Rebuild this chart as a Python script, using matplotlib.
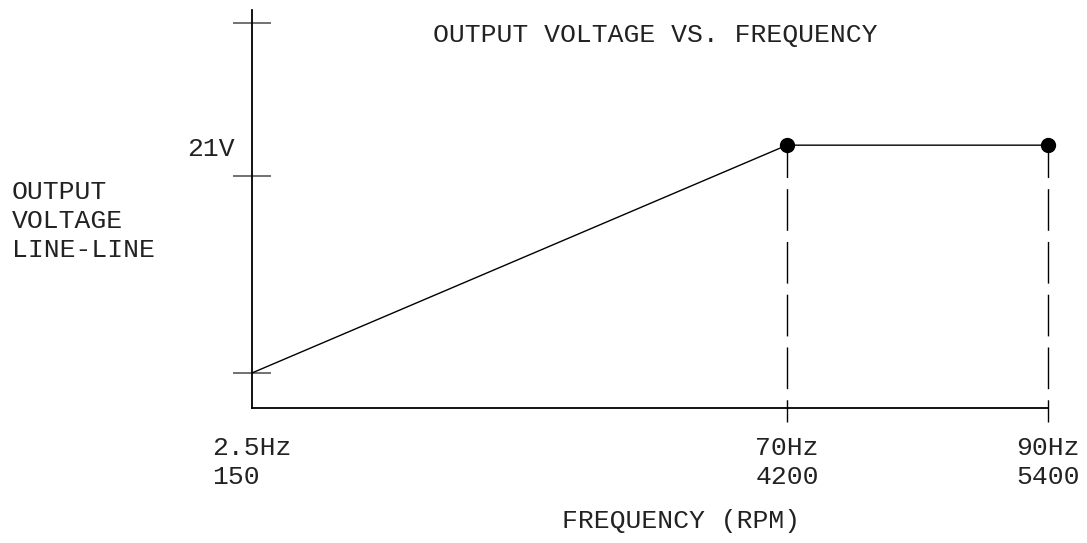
from matplotlib import pyplot as plt
import numpy as np

# operating points
freq_hz = [2.5, 70, 90]
speed_rpm = [150, 4200, 5400]
voltage = [2.8, 21, 21]
# y tick marks on the voltage axis (volts, estimated)
volt_ticks = [2.8, 18.5, 30.8]

# schematic (not to scale) frequency axis: piecewise linear spacing
seg_len = [535.0, 261.0]

def fwd(x):
    x = np.asarray(x, dtype=float)
    a = (x - freq_hz[0]) / (freq_hz[1] - freq_hz[0]) * seg_len[0]
    b = seg_len[0] + (x - freq_hz[1]) / (freq_hz[2] - freq_hz[1]) * seg_len[1]
    return np.where(x <= freq_hz[1], a, b)

def inv(u):
    u = np.asarray(u, dtype=float)
    a = freq_hz[0] + u / seg_len[0] * (freq_hz[1] - freq_hz[0])
    b = freq_hz[1] + (u - seg_len[0]) / seg_len[1] * (freq_hz[2] - freq_hz[1])
    return np.where(u <= seg_len[0], a, b)

W, H = 1087, 543
font = 'Liberation Mono'
fs = 19
tc = '#222222'

fig = plt.figure(figsize=(W / 100, H / 100), dpi=100)
ax = fig.add_axes([252 / W, 135 / H, (1048 - 252) / W, (408 - 10) / H])
ax.set_xscale('function', functions=(fwd, inv))
ax.set_xlim(freq_hz[0], freq_hz[-1])
ax.set_ylim(0, 31.8)

for s in ['top', 'right']:
    ax.spines[s].set_visible(False)
for s in ['left', 'bottom']:
    ax.spines[s].set_linewidth(1.3)
    ax.spines[s].set_color('black')

# curve
ax.plot(freq_hz, voltage, color='black', lw=1.0, clip_on=False, zorder=3)
ax.plot(freq_hz[1:], voltage[1:], 'o', color='black', ms=10, clip_on=False, zorder=4)
# dashed drop lines from the breakpoints
ax.vlines(freq_hz[1:], -1.15, voltage[1:], colors='black', lw=1.0,
          linestyles=(14, (30, 8)), clip_on=False, zorder=2)

# y ticks (marks only)
ax.set_yticks(volt_ticks)
ax.set_yticklabels([])
ax.tick_params(axis='y', direction='inout', length=27, width=1.3, color='#666666')

# x tick labels: frequency and speed
ax.set_xticks(freq_hz)
ax.set_xticklabels(['%gHz\n%d' % (f, r) for f, r in zip(freq_hz, speed_rpm)],
                   family=font, fontsize=fs, color=tc)
ax.tick_params(axis='x', length=0, pad=20)
for lab in ax.get_xticklabels():
    lab.set_multialignment('left')
    lab.set_linespacing(1.25)

ax.text(-17 / 796, 20.7, '21V', transform=ax.get_yaxis_transform(), ha='right',
        va='center', family=font, fontsize=fs, color=tc)

fig.text(655 / W, 1 - 42 / H, 'OUTPUT VOLTAGE VS. FREQUENCY', ha='center', va='baseline',
         family=font, fontsize=fs, color=tc)
for i, line in enumerate(['OUTPUT', 'VOLTAGE', 'LINE-LINE']):
    fig.text(12 / W, 1 - (199 + 29 * i) / H, line, ha='left', va='baseline',
             family=font, fontsize=fs, color=tc)
fig.text(681 / W, 1 - 528 / H, 'FREQUENCY (RPM)', ha='center', va='baseline',
         family=font, fontsize=fs, color=tc)

plt.savefig('out.png', dpi=100)
